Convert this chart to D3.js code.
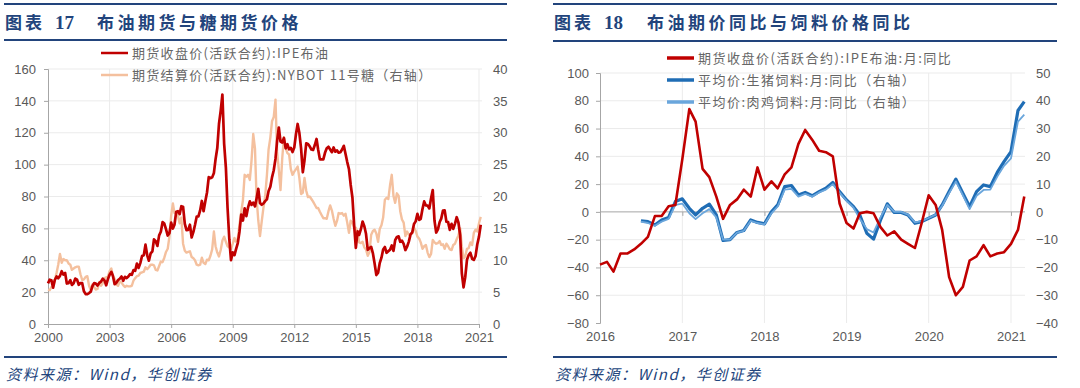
<!DOCTYPE html>
<html><head><meta charset="utf-8">
<script src="https://cdn.jsdelivr.net/npm/d3@7"></script>
<style>body{margin:0;background:#fff}svg{display:block}</style>
</head><body><svg id="c" width="1080" height="388"></svg>
<script>
// ---------- DATA ----------
// Left chart: monthly, starting 2000-01
const brent2000to2010 = [
 25.5,27.8,27.5,22.8,27.6,29.8,28.7,30.2,33.1,31.0,32.1,25.4,
 25.6,27.5,24.5,25.6,28.5,27.8,24.6,25.7,25.6,20.5,18.8,18.7,
 19.4,20.3,23.7,25.7,25.4,24.1,25.7,26.6,28.4,27.5,24.3,28.0,
 30.9,32.7,30.3,25.0,25.8,27.6,28.4,29.8,27.1,29.6,28.8,29.8,
 31.3,30.9,33.8,33.4,37.9,35.2,38.2,42.7,43.2,49.8,43.1,39.7,
 44.3,45.6,53.1,51.9,49.0,55.6,57.9,63.9,63.0,59.5,55.5,57.0,
 63.6,59.9,62.3,70.4,70.8,68.9,73.9,73.6,62.8,58.9,59.1,62.3,
 54.3,57.8,62.1,67.4,67.5,71.3,77.2,70.8,77.0,82.5,92.1,91.5,
 92.0,94.8,103.3,110.4,125.5,133.9,144.0,113.0,98.1,72.8,53.2,40.0,
 44.9,43.2,47.0,50.8,57.9,68.6,64.9,72.5,67.7,73.2,77.0,74.7,
 76.2,73.8,78.8,84.8,75.9,74.8,75.6,77.1,78.2,83.5,86.1,92.0];
const brent2011to2021 = [
 96.5,103.7,114.6,123.3,114.5,113.9,116.7,110.2,112.8,109.6,110.5,107.9,
 110.7,119.3,125.5,119.8,110.3,95.2,102.6,113.4,113.0,111.5,109.5,109.2,
 112.3,116.1,109.5,103.3,103.3,103.3,107.4,110.3,111.2,109.5,107.8,110.8,
 108.1,108.9,107.5,107.8,109.5,111.8,106.8,101.6,97.1,87.4,79.4,62.3,
 47.8,58.1,55.9,59.5,64.3,61.3,56.6,46.5,47.6,48.4,44.3,38.0,
 30.7,32.2,38.2,41.6,46.7,48.3,44.7,45.7,46.6,49.3,45.9,52.6,
 54.6,55.0,51.6,52.3,50.3,46.4,48.5,51.7,56.2,57.5,62.7,64.4,
 69.1,65.3,66.0,72.1,76.9,74.4,74.3,72.5,78.9,84.0,64.8,57.4,
 59.4,64.0,66.1,71.2,71.3,64.2,63.9,59.0,62.8,59.7,63.0,67.0,
 63.7,55.5,32.0,23.0,29.4,40.3,43.2,44.7,40.9,40.2,42.7,49.9,
 54.8,62.3];
const sugar2000to2010 = [
 5.4,5.3,5.8,5.9,6.9,8.0,9.3,11.0,9.6,10.2,10.0,10.0,
 9.5,9.3,8.5,8.7,8.9,9.0,9.0,7.8,6.9,7.0,7.4,7.5,
 6.0,5.3,6.2,5.8,5.4,5.5,6.6,6.0,6.4,7.2,7.3,7.4,
 8.3,8.7,7.5,7.1,6.2,6.0,6.7,6.5,6.1,5.8,6.0,5.9,
 5.9,6.0,6.8,7.2,7.5,7.6,8.0,8.1,8.2,8.9,8.6,8.9,
 9.3,9.3,9.2,8.5,8.4,9.1,9.8,9.7,10.4,11.3,11.8,13.7,
 17.0,18.9,17.4,17.5,17.0,15.8,16.7,12.6,11.5,11.2,11.3,11.4,
 10.5,10.3,10.0,9.3,9.2,9.3,10.4,9.6,9.4,10.1,10.0,10.7,
 11.7,14.5,12.2,11.2,10.6,11.6,13.1,13.7,12.9,12.2,12.0,11.8,
 12.6,13.5,12.9,13.4,15.6,17.6,19.4,23.4,23.1,23.4,22.6,25.6,
 29.8,27.5,19.8,16.2,13.8,16.1,18.2,20.0,23.3,27.4,29.2,31.8];
const sugar2011to2021 = [
 32.5,35.2,27.0,24.2,21.0,26.0,29.3,27.6,26.8,26.6,24.3,23.4,
 23.9,24.3,24.7,22.9,20.4,20.6,22.9,20.9,19.9,20.0,19.6,19.2,
 18.7,18.2,18.2,17.6,17.1,16.6,16.6,16.5,17.7,18.6,17.8,16.5,
 15.4,16.2,17.4,17.3,17.4,17.0,17.3,15.9,14.3,16.2,15.9,15.1,
 15.1,14.4,12.8,12.7,12.9,12.0,11.7,10.7,11.3,14.0,14.6,14.8,
 14.2,12.9,14.9,15.5,16.7,19.5,19.8,19.6,21.8,23.4,20.1,19.0,
 20.5,20.1,17.7,16.4,15.9,13.8,14.5,14.0,14.1,14.2,15.1,14.6,
 13.7,13.4,12.8,11.8,12.2,12.4,11.2,10.5,11.0,13.2,12.8,12.6,
 12.7,13.0,12.4,12.5,11.8,12.6,12.2,11.7,11.6,12.4,12.6,13.3,
 13.9,15.0,12.2,10.3,10.6,11.8,11.9,12.8,12.4,14.3,14.8,14.5,
 15.8,16.8];
const leftYears = [2000,2003,2006,2009,2012,2015,2018,2021];
const leftTicksL = [0,20,40,60,80,100,120,140,160];
const leftTicksR = [0,5,10,15,20,25,30,35,40];

// Right chart: monthly YoY, Brent from 2016-01, feeds from 2016-07
const brentYoY = [
 -38,-36,-43,-30,-30,-27,-23,-18,-3,-3,4,5,
 38,74,65,31,25,11,-5,5,9,16,11,32,
 16,22,17,27,32,49,59,52,44,43,40,6,
 -8,-12,-1,0,-1,-11,-17,-14,-20,-23,-26,-8,
 12,5,-13,-47,-60,-54,-35,-32,-24,-32,-30,-29,
 -23,-13,11];
const hogFeedYoY = [
 -3.2,-3.5,-4.7,-2.9,-2.0,3.7,
 4.7,1.3,-1.1,1.3,2.8,-1.1,-10.3,-10.0,-7.4,-6.7,-2.9,-3.8,
 -4.3,0.0,2.5,9.1,9.5,6.1,7.0,5.8,7.3,8.5,10.6,7.3,
 4.3,1.9,-1.1,-7.7,-9.8,-2.9,2.9,-0.2,-0.2,-1.1,-4.1,-3.5,
 -2.3,-1.1,2.5,7.3,11.8,6.7,1.9,7.3,9.7,9.1,14.2,18.1,
 21.7,36.5,39.7];
const broilerFeedYoY = [
 -3.5,-4.0,-5.0,-3.5,-2.5,2.5,
 3.0,-0.5,-2.6,-0.5,1.0,-2.0,-10.0,-10.0,-7.5,-6.8,-3.2,-4.0,
 -4.5,-0.5,2.0,8.0,8.3,5.5,6.5,5.5,7.0,8.0,10.0,7.0,
 4.0,1.5,-2.5,-6.2,-7.4,-2.0,2.5,0.0,0.0,-1.0,-3.8,-3.3,
 -2.2,-1.0,2.2,6.8,11.0,6.0,1.0,5.8,7.9,8.0,12.7,16.6,
 19.3,32.5,35.0];
const rightYears = [2016,2017,2018,2019,2020,2021];
const rightTicksL = [-80,-60,-40,-20,0,20,40,60,80,100];
const rightTicksR = [-40,-30,-20,-10,0,10,20,30,40,50];

// ---------- DRAW ----------
const svg = d3.select("#c");
const NAVY = "#22447c", TXT = "#595959", GRID = "#ebebeb", AX = "#a6a6a6";
const FONT_CJK = "'Noto Sans CJK SC','Noto Sans',sans-serif";
const FONT_NUM = "'Liberation Sans',Arial,sans-serif";
const monthDate = (y, m, i) => d3.timeMonth.offset(new Date(y, m, 1), i);

function frame(x0, x1, topY, ruleY, footY, num, title, titleX) {
  [topY, ruleY, footY].forEach(yy =>
    svg.append("line").attr("x1", x0).attr("x2", x1).attr("y1", yy).attr("y2", yy)
      .attr("stroke", NAVY).attr("stroke-width", 2));
  svg.append("text").attr("x", x0 + 1).attr("y", 29).text("图表")
    .attr("font-family", FONT_CJK).attr("font-weight", 700).attr("font-size", 17)
    .attr("letter-spacing", 3).attr("fill", NAVY);
  svg.append("text").attr("x", x0 + 51).attr("y", 29).text(num)
    .attr("font-family", "'Liberation Serif',serif").attr("font-weight", 700).attr("font-size", 19)
    .attr("fill", NAVY);
  svg.append("text").attr("x", titleX).attr("y", 29).text(title)
    .attr("font-family", FONT_CJK).attr("font-weight", 700).attr("font-size", 17)
    .attr("letter-spacing", 3.5).attr("fill", NAVY);
  svg.append("text").attr("x", x0 + 2).attr("y", 380).text("资料来源：Wind，华创证券")
    .attr("font-family", FONT_CJK).attr("font-style", "italic").attr("font-size", 15)
    .attr("letter-spacing", 1.5).attr("fill", NAVY);
}

function legend(items, x, y0, dy, fs, ls) {
  items.forEach((it, k) => {
    const y = y0 + k * dy;
    svg.append("line").attr("x1", x).attr("x2", x + 27).attr("y1", y).attr("y2", y)
      .attr("stroke", it.color).attr("stroke-width", it.w);
    svg.append("text").attr("x", x + 31).attr("y", y + 4.5).text(it.label)
      .attr("font-family", FONT_CJK).attr("font-size", fs).attr("letter-spacing", ls)
      .attr("fill", "#666");
  });
}

// ===== Left chart =====
frame(4, 507, 4, 40, 357, "17", "布油期货与糖期货价格", 97);
{
  const x = d3.scaleTime().domain([new Date(2000,0,1), new Date(2021,0,1)]).range([48, 479]);
  const yL = d3.scaleLinear().domain([0,160]).range([324, 69]);
  const yR = d3.scaleLinear().domain([0,40]).range([324, 69]);
  const g = svg.append("g");
  g.selectAll(".hg").data(leftTicksL.slice(1)).join("line")
    .attr("x1", 48).attr("x2", 482).attr("y1", d => yL(d)).attr("y2", d => yL(d))
    .attr("stroke", GRID);
  g.selectAll(".vg").data(leftYears.slice(1)).join("line")
    .attr("x1", d => x(new Date(d,0,1))).attr("x2", d => x(new Date(d,0,1)))
    .attr("y1", 69).attr("y2", 324).attr("stroke", GRID);
  const axL = d3.axisLeft(yL).tickValues(leftTicksL).tickSize(4).tickPadding(8);
  const axB = d3.axisBottom(x).tickValues(leftYears.map(d => new Date(d,0,1)))
    .tickFormat(d3.timeFormat("%Y")).tickSize(4).tickPadding(5);
  const axR = d3.axisRight(yR).tickValues(leftTicksR).tickSize(0).tickPadding(14);
  const gl = g.append("g").attr("transform", "translate(48,0)").call(axL);
  const gb = g.append("g").attr("transform", "translate(0,324)").call(axB);
  const gr = g.append("g").attr("transform", "translate(479,0)").call(axR);
  gr.select(".domain").remove();
  [gl, gb, gr].forEach(a => {
    a.selectAll("path.domain").attr("stroke", AX);
    a.selectAll(".tick line").attr("stroke", AX);
    a.selectAll("text").attr("fill", TXT).attr("font-size", 13).attr("font-family", FONT_NUM);
  });
  const brent = brent2000to2010.concat(brent2011to2021);
  const sugar = sugar2000to2010.concat(sugar2011to2021);
  g.append("path").datum(sugar)
    .attr("d", d3.line().x((d,i) => x(monthDate(2000,0,i))).y(d => yR(d)))
    .attr("fill", "none").attr("stroke", "#f4c09e").attr("stroke-width", 2.4)
    .attr("stroke-linejoin", "round");
  g.append("path").datum(brent)
    .attr("d", d3.line().x((d,i) => x(monthDate(2000,0,i))).y(d => yL(d)))
    .attr("fill", "none").attr("stroke", "#c00000").attr("stroke-width", 2.7)
    .attr("stroke-linejoin", "round");
  legend([
    {label: "期货收盘价(活跃合约):IPE布油", color: "#c00000", w: 2.5},
    {label: "期货结算价(活跃合约):NYBOT 11号糖（右轴）", color: "#f4c09e", w: 2.5}
  ], 101, 53, 22, 13, 1.3);
}

// ===== Right chart =====
frame(553, 1057, 4, 41, 357, "18", "布油期价同比与饲料价格同比", 647);
{
  const x = d3.scaleTime().domain([new Date(2016,0,1), new Date(2021,0,1)]).range([600, 1011]);
  const yL = d3.scaleLinear().domain([-80,100]).range([323, 73]);
  const yR = d3.scaleLinear().domain([-40,50]).range([323, 73]);
  const g = svg.append("g");
  g.selectAll(".hg").data(rightTicksL.filter(d => d !== 0 && d !== -80)).join("line")
    .attr("x1", 600).attr("x2", 1025).attr("y1", d => yL(d)).attr("y2", d => yL(d))
    .attr("stroke", GRID);
  g.selectAll(".vg").data(rightYears.slice(1)).join("line")
    .attr("x1", d => x(new Date(d,0,1))).attr("x2", d => x(new Date(d,0,1)))
    .attr("y1", 73).attr("y2", 323).attr("stroke", GRID);
  const axL = d3.axisLeft(yL).tickValues(rightTicksL).tickSize(4).tickPadding(7);
  const gl = g.append("g").attr("transform", "translate(600,0)").call(axL);
  const axR = d3.axisRight(yR).tickValues(rightTicksR).tickSize(0).tickPadding(12);
  const gr = g.append("g").attr("transform", "translate(1024,0)").call(axR);
  gr.select(".domain").remove();
  const axZ = d3.axisBottom(x).tickValues(rightYears.map(d => new Date(d,0,1)))
    .tickFormat("").tickSize(4).tickSizeOuter(0);
  const gz = g.append("g").attr("transform", `translate(0,${yL(0)})`).call(axZ);
  gz.select(".domain").attr("d", `M600,0H1025`);
  const axB = d3.axisBottom(x).tickValues(rightYears.map(d => new Date(d,0,1)))
    .tickFormat(d3.timeFormat("%Y")).tickSize(0).tickPadding(9);
  const gb = g.append("g").attr("transform", "translate(0,323)").call(axB);
  gb.select(".domain").remove();
  [gl, gr, gz, gb].forEach(a => {
    a.selectAll("path.domain").attr("stroke", AX);
    a.selectAll(".tick line").attr("stroke", AX);
    a.selectAll("text").attr("fill", TXT).attr("font-size", 13).attr("font-family", FONT_NUM);
  });
  const lineL = d3.line().x((d,i) => x(monthDate(2016,0,i))).y(d => yL(d));
  const lineR = d3.line().x((d,i) => x(monthDate(2016,6,i))).y(d => yR(d));
  g.append("path").datum(hogFeedYoY).attr("d", lineR).attr("fill", "none")
    .attr("stroke", "#1f6db5").attr("stroke-width", 3.2).attr("stroke-linejoin", "round");
  g.append("path").datum(broilerFeedYoY).attr("d", lineR).attr("fill", "none")
    .attr("stroke", "#6aa6dc").attr("stroke-width", 1.8).attr("stroke-linejoin", "round");
  g.append("path").datum(brentYoY).attr("d", lineL).attr("fill", "none")
    .attr("stroke", "#c00000").attr("stroke-width", 2.6).attr("stroke-linejoin", "round");
  legend([
    {label: "期货收盘价(活跃合约):IPE布油:月:同比", color: "#c00000", w: 3.5},
    {label: "平均价:生猪饲料:月:同比（右轴）", color: "#1f6db5", w: 3.5},
    {label: "平均价:肉鸡饲料:月:同比（右轴）", color: "#6aa6dc", w: 3.5}
  ], 667, 58, 22, 13, 1.5);
}
</script></body></html>
